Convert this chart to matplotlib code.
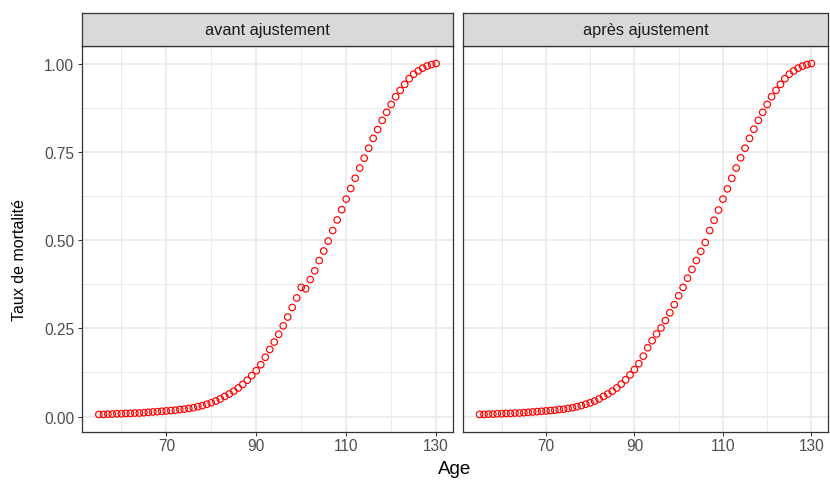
import matplotlib
matplotlib.use("Agg")
import matplotlib.pyplot as plt
import numpy as np

plt.rcParams['font.family'] = ['Liberation Sans', 'DejaVu Sans']

ages = list(range(55, 131))

# Mortality rates before adjustment (ages 55..130)
rates_before = [
    0.006, 0.006, 0.007, 0.007, 0.008, 0.008, 0.009, 0.009, 0.010, 0.010,   # 55-64
    0.011, 0.012, 0.013, 0.014, 0.015, 0.016, 0.017, 0.018, 0.020, 0.021,   # 65-74
    0.023, 0.025, 0.028, 0.031, 0.035, 0.039, 0.044, 0.050, 0.057, 0.064,   # 75-84
    0.072, 0.081, 0.091, 0.103, 0.116, 0.130, 0.147, 0.168, 0.190, 0.211,   # 85-94
    0.233, 0.257, 0.282, 0.309, 0.336, 0.366, 0.362, 0.388, 0.413, 0.442,   # 95-104
    0.469, 0.497, 0.527, 0.557, 0.586, 0.616, 0.646, 0.675, 0.704, 0.732,   # 105-114
    0.760, 0.788, 0.813, 0.839, 0.862, 0.884, 0.906, 0.924, 0.941, 0.957,   # 115-124
    0.970, 0.979, 0.987, 0.993, 0.997, 1.000,                               # 125-130
]

# Mortality rates after adjustment (ages 55..130)
rates_after = [
    0.006, 0.006, 0.007, 0.007, 0.008, 0.008, 0.009, 0.009, 0.010, 0.010,   # 55-64
    0.011, 0.012, 0.013, 0.014, 0.015, 0.016, 0.017, 0.018, 0.020, 0.021,   # 65-74
    0.023, 0.025, 0.028, 0.031, 0.035, 0.039, 0.044, 0.050, 0.057, 0.064,   # 75-84
    0.072, 0.081, 0.092, 0.104, 0.118, 0.133, 0.150, 0.171, 0.195, 0.215,   # 85-94
    0.234, 0.251, 0.272, 0.294, 0.317, 0.342, 0.366, 0.392, 0.417, 0.442,   # 95-104
    0.468, 0.493, 0.527, 0.556, 0.585, 0.616, 0.645, 0.675, 0.704, 0.733,   # 105-114
    0.760, 0.788, 0.814, 0.839, 0.862, 0.884, 0.906, 0.924, 0.941, 0.957,   # 115-124
    0.970, 0.979, 0.987, 0.993, 0.997, 1.000,                               # 125-130
]

panel_titles = ["avant ajustement", "après ajustement"]
x_ticks = [70, 90, 110, 130]
x_minor = [60, 80, 100, 120]
y_ticks = [0.0, 0.25, 0.5, 0.75, 1.0]
y_tick_labels = ["0.00", "0.25", "0.50", "0.75", "1.00"]
y_minor = [0.125, 0.375, 0.625, 0.875]

W, H = 830, 481
fig = plt.figure(figsize=(W / 100, H / 100), dpi=100)

panels = [(82, 453), (463, 828)]
panel_top, panel_bottom = 47, 433
strip_top = 14

grey20 = "#333333"
grey30 = "#4D4D4D"
grey92 = "#EBEBEB"

xmin, xmax = 55, 130
xpad = (xmax - xmin) * 0.05
ymin, ymax = 0.006, 1.0
ypad = (ymax - ymin) * 0.05

for i, ((x0, x1), title, rates) in enumerate(zip(panels, panel_titles, [rates_before, rates_after])):
    ax = fig.add_axes([x0 / W, (H - panel_bottom) / H, (x1 - x0) / W, (panel_bottom - panel_top) / H])
    ax.set_xlim(xmin - xpad, xmax + xpad)
    ax.set_ylim(ymin - ypad, ymax + ypad)

    for v in x_minor:
        ax.axvline(v, color=grey92, lw=0.7, zorder=0)
    for v in y_minor:
        ax.axhline(v, color=grey92, lw=0.7, zorder=0)
    for v in x_ticks:
        ax.axvline(v, color=grey92, lw=1.3, zorder=0)
    for v in y_ticks:
        ax.axhline(v, color=grey92, lw=1.3, zorder=0)

    ax.scatter(ages, rates, s=4.7 ** 2, facecolors="none", edgecolors="#FF0000",
               linewidths=0.85, zorder=3)

    ax.set_xticks(x_ticks)
    ax.set_xticklabels([str(t) for t in x_ticks])
    ax.set_yticks(y_ticks)
    if i == 0:
        ax.set_yticklabels(y_tick_labels)
    else:
        ax.set_yticklabels([])
    ax.tick_params(axis="both", length=3.2, width=0.7, color=grey20,
                   labelsize=11.2, labelcolor=grey30, pad=2.4)
    ax.tick_params(axis="x", pad=1.2)
    if i == 1:
        ax.tick_params(axis="y", length=0)
    for sp in ax.spines.values():
        sp.set_color(grey20)
        sp.set_linewidth(0.9)

    # facet strip
    sax = fig.add_axes([x0 / W, (H - panel_top) / H, (x1 - x0) / W, (panel_top - strip_top) / H])
    sax.set_xlim(0, 1)
    sax.set_ylim(0, 1)
    sax.set_xticks([])
    sax.set_yticks([])
    sax.set_facecolor("#D9D9D9")
    for sp in sax.spines.values():
        sp.set_color(grey20)
        sp.set_linewidth(0.9)
    sax.text(0.5, 0.5, title, ha="center", va="center", fontsize=11.8, color="#1A1A1A")

fig.text((82 + 828) / 2 / W, 1 - 470 / H, "Age", ha="center", va="center", fontsize=13.5, color="black")
fig.text(20 / W, 1 - 260 / H, "Taux de mortalité", ha="center", va="center", rotation=90,
         fontsize=11.5, color="black")

fig.savefig("out.png", dpi=100, facecolor="white")
